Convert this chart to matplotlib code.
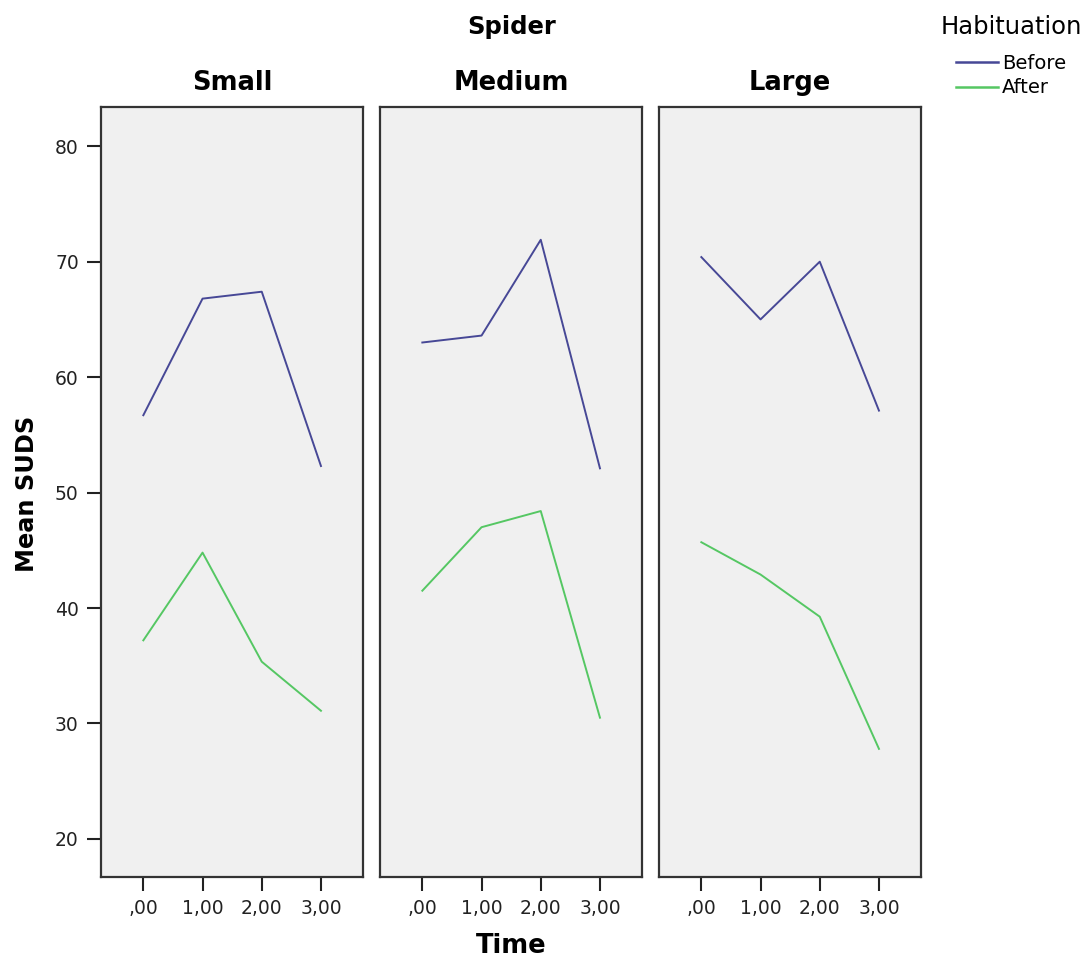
import matplotlib.pyplot as plt
from matplotlib.lines import Line2D

# data
times = [0, 1, 2, 3]
time_labels = [",00", "1,00", "2,00", "3,00"]
spider_sizes = ["Small", "Medium", "Large"]
before = {
    "Small": [56.7, 66.8, 67.4, 52.3],
    "Medium": [63.0, 63.6, 71.9, 52.1],
    "Large": [70.4, 65.0, 70.0, 57.1],
}
after = {
    "Small": [37.2, 44.8, 35.35, 31.1],
    "Medium": [41.5, 47.0, 48.4, 30.5],
    "Large": [45.7, 42.9, 39.25, 27.8],
}
y_ticks = [20, 30, 40, 50, 60, 70, 80]

before_color = "#474896"
after_color = "#55c763"

plt.rcParams['font.family'] = ['DejaVu Sans']

W, H = 1091, 963
fig = plt.figure(figsize=(W / 100, H / 100), dpi=100)

lefts = [101, 380, 659]
ax_w = 262
top, bottom = 107, 877

for i, size in enumerate(spider_sizes):
    ax = fig.add_axes([lefts[i] / W, 1 - bottom / H, ax_w / W, (bottom - top) / H])
    ax.set_facecolor("#f0f0f0")
    ax.plot(times, before[size], color=before_color, lw=1.4)
    ax.plot(times, after[size], color=after_color, lw=1.4)
    ax.set_xlim(-0.715, 3.71)
    ax.set_ylim(16.7, 83.4)
    ax.set_xticks(times)
    ax.set_xticklabels(time_labels, fontsize=13.5, color="#222222")
    ax.tick_params(axis='both', length=10, width=1.5, color="#222222", pad=6)
    for s in ax.spines.values():
        s.set_linewidth(1.6)
        s.set_color("#333333")
    if i == 0:
        ax.set_yticks(y_ticks)
        ax.set_yticklabels([str(v) for v in y_ticks], fontsize=13.5, color="#222222")
    else:
        ax.set_yticks([])
    cx = (lefts[i] + ax_w / 2) / W
    fig.text(cx, 1 - 83 / H, size, ha='center', va='center', fontsize=18.5, fontweight='bold')

fig.text(512 / W, 1 - 27 / H, "Spider", ha='center', va='center', fontsize=17.5, fontweight='bold')
fig.text(511 / W, 1 - 946 / H, "Time", ha='center', va='center', fontsize=18.5, fontweight='bold')
fig.text(27 / W, 1 - 494 / H, "Mean SUDS", ha='center', va='center', rotation=90,
         fontsize=17.3, fontweight='bold')

fig.text(1011 / W, 1 - 27 / H, "Habituation", ha='center', va='center', fontsize=17.5)
handles = [Line2D([0], [0], color=before_color, lw=1.8),
           Line2D([0], [0], color=after_color, lw=1.8)]
fig.legend(handles, ["Before", "After"], loc='upper left',
           bbox_to_anchor=(942 / W, 1 - 40 / H), frameon=False, fontsize=14,
           handlelength=2.2, handletextpad=0.2, labelspacing=0.3, borderpad=0.2)

fig.savefig("out.png", dpi=100)
